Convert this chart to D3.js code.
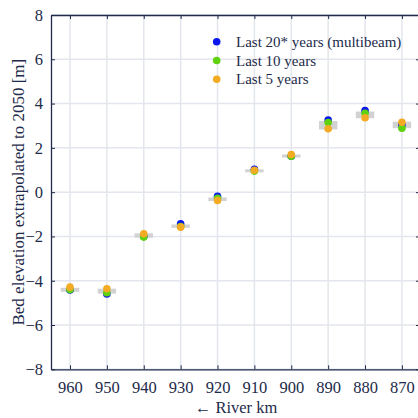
<!DOCTYPE html>
<html>
<head>
<meta charset="utf-8">
<script src="https://cdn.jsdelivr.net/npm/d3@7"></script>
<style>
  html, body { margin: 0; padding: 0; background: #fff; }
  svg, svg text { font-family: "Liberation Serif", "Times New Roman", serif; }
  svg { display: block; }
</style>
</head>
<body>
<svg id="chart" width="418" height="418"></svg>
<script>
// River km stations (plotted right-to-left)
const stations = [960, 950, 940, 930, 920, 910, 900, 890, 880, 870];

// Extrapolated bed elevation in 2050 [m] per trend window
const last20 = [-4.42, -4.60, -2.00, -1.43, -0.19, 1.03, 1.62, 3.26, 3.68, 3.03];
const last10 = [-4.40, -4.54, -2.03, -1.55, -0.28, 0.95, 1.62, 3.14, 3.56, 2.89];
const last5  = [-4.29, -4.36, -1.88, -1.58, -0.38, 0.99, 1.70, 2.86, 3.36, 3.16];

// Spread band (grey) per station
const bandLow  = [-4.50, -4.58, -2.06, -1.61, -0.40, 0.95, 1.60, 2.83, 3.34, 2.89];
const bandHigh = [-4.32, -4.36, -1.86, -1.46, -0.24, 1.03, 1.70, 3.21, 3.64, 3.18];

const yTicks = [-8, -6, -4, -2, 0, 2, 4, 6, 8];
const seriesNames = ["Last 20* years (multibeam)", "Last 10 years", "Last 5 years"];
const seriesColors = ["#0b16ee", "#5fd20f", "#f2ab22"];

const svg = d3.select("#chart");
const ink = "#1e2b4a";
const gridColor = "#e3e6ec";
const serif = "'Liberation Serif', 'Times New Roman', serif";

const x = d3.scaleLinear().domain([965.15, 865.1]).range([51, 420]);
const y = d3.scaleLinear().domain([-8, 8]).range([369.3, 15]);

// grid
const grid = svg.append("g");
grid.selectAll("line.gx").data(stations).join("line")
  .attr("x1", d => x(d)).attr("x2", d => x(d))
  .attr("y1", y(8)).attr("y2", y(-8))
  .attr("stroke", gridColor).attr("stroke-width", 1.5);
grid.selectAll("line.gy").data(yTicks).join("line")
  .attr("x1", x.range()[0]).attr("x2", x.range()[1])
  .attr("y1", d => y(d)).attr("y2", d => y(d))
  .attr("stroke", gridColor).attr("stroke-width", 1.5);

// axes (ticks pointing inward)
function styleAxis(g) {
  g.attr("font-family", null).style("font-family", serif);
  g.select(".domain").attr("stroke", ink).attr("stroke-width", 1.3);
  g.selectAll(".tick line").attr("stroke", ink).attr("stroke-width", 1);
  g.selectAll(".tick text").attr("fill", ink).attr("font-size", 16.5)
    .style("font-family", serif);
}
svg.append("g").attr("transform", `translate(0,${y(-8)})`)
  .call(d3.axisBottom(x).tickValues(stations).tickSizeInner(-4).tickSizeOuter(0).tickPadding(12).tickFormat(d3.format("d")))
  .call(styleAxis);
svg.append("g").attr("transform", `translate(0,${y(8)})`)
  .call(d3.axisTop(x).tickValues(stations).tickSizeInner(-4).tickSizeOuter(0).tickFormat(""))
  .call(styleAxis);
svg.append("g").attr("transform", `translate(${x.range()[0]},0)`)
  .call(d3.axisLeft(y).tickValues(yTicks).tickSizeInner(-4).tickSizeOuter(0).tickPadding(8).tickFormat(d3.format("d")))
  .call(styleAxis);
svg.append("g").attr("transform", `translate(${x.range()[1]},0)`)
  .call(d3.axisRight(y).tickValues(yTicks).tickSizeInner(-4).tickSizeOuter(0).tickFormat(""))
  .call(styleAxis);

// grey spread bands
const halfW = 2.5;
svg.append("g").selectAll("rect").data(stations).join("rect")
  .attr("x", d => x(d + halfW))
  .attr("width", d => x(d - halfW) - x(d + halfW))
  .attr("y", (d, i) => y(bandHigh[i]))
  .attr("height", (d, i) => Math.max(3, y(bandLow[i]) - y(bandHigh[i])))
  .attr("fill", "#d2d2d2");

// points
const series = [last20, last10, last5];
series.forEach((vals, s) => {
  svg.append("g").selectAll("circle").data(stations).join("circle")
    .attr("cx", d => x(d))
    .attr("cy", (d, i) => y(vals[i]))
    .attr("r", 3.8)
    .attr("fill", seriesColors[s]);
});

// legend
const legend = svg.append("g").style("font-family", serif);
seriesNames.forEach((name, i) => {
  const ly = 41.7 + i * 18.8;
  legend.append("circle").attr("cx", 216.7).attr("cy", ly).attr("r", 3.8).attr("fill", seriesColors[i]);
  legend.append("text").attr("x", 236).attr("y", ly + 5)
    .attr("font-size", 15).attr("fill", ink).text(name);
});

// axis titles
svg.append("text")
  .attr("x", 236).attr("y", 413)
  .attr("text-anchor", "middle").attr("font-size", 16.5).attr("fill", ink)
  .style("font-family", serif)
  .text("← River km");
svg.append("text")
  .attr("transform", `translate(24,${y(0)}) rotate(-90)`)
  .attr("text-anchor", "middle").attr("font-size", 17).attr("fill", ink)
  .style("font-family", serif)
  .text("Bed elevation extrapolated to 2050 [m]");
</script>
</body>
</html>
